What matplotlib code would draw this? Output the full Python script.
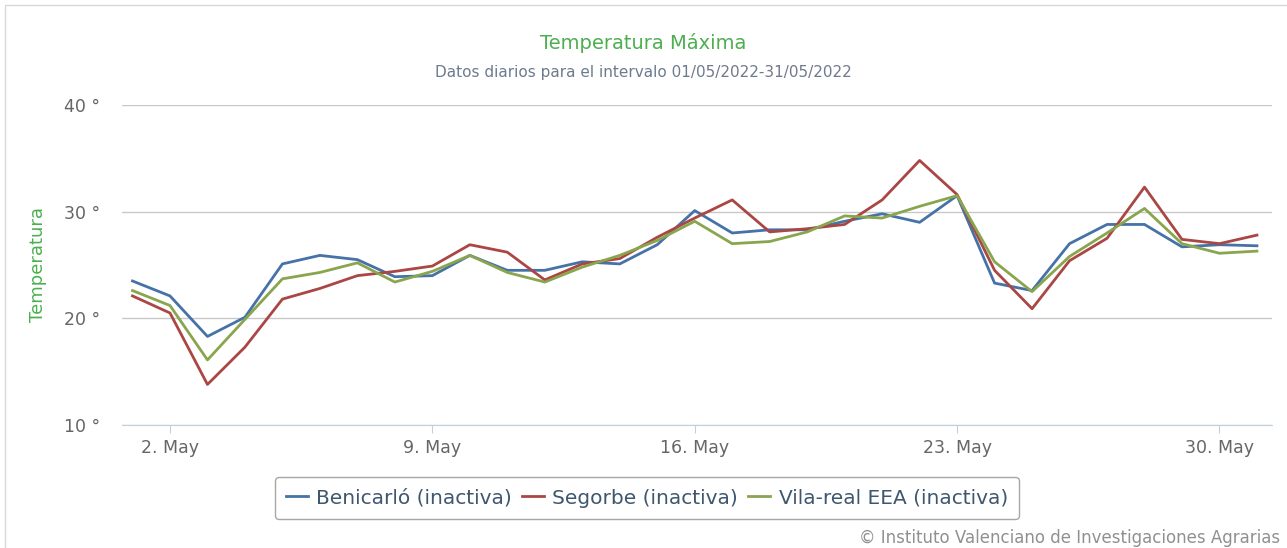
import matplotlib
matplotlib.use("Agg")
import matplotlib.pyplot as plt
from matplotlib.patches import Rectangle

plt.rcParams['font.family'] = ['DejaVu Sans']

# daily maximum temperature, May 2022
days = list(range(1, 32))
benicarlo = [23.5, 22.1, 18.3, 20.1, 25.1, 25.9, 25.5, 23.9, 24.0, 25.9,
             24.5, 24.5, 25.3, 25.1, 26.9, 30.1, 28.0, 28.3, 28.3, 29.1,
             29.8, 29.0, 31.5, 23.3, 22.6, 27.0, 28.8, 28.8, 26.7, 26.9, 26.8]
segorbe = [22.1, 20.5, 13.8, 17.3, 21.8, 22.8, 24.0, 24.4, 24.9, 26.9,
           26.2, 23.6, 25.1, 25.6, 27.6, 29.4, 31.1, 28.1, 28.4, 28.8,
           31.1, 34.8, 31.6, 24.5, 20.9, 25.4, 27.5, 32.3, 27.4, 27.0, 27.8]
vilareal = [22.6, 21.2, 16.1, 19.9, 23.7, 24.3, 25.2, 23.4, 24.4, 25.9,
            24.3, 23.4, 24.8, 25.9, 27.3, 29.1, 27.0, 27.2, 28.1, 29.6,
            29.4, 30.5, 31.5, 25.3, 22.5, 25.8, 28.0, 30.3, 27.0, 26.1, 26.3]
series = [("Benicarló (inactiva)", benicarlo, "#4572A7"),
          ("Segorbe (inactiva)", segorbe, "#AA4643"),
          ("Vila-real EEA (inactiva)", vilareal, "#89A54E")]
tick_days = [2, 9, 16, 23, 30]
tick_labels = ["2. May", "9. May", "16. May", "23. May", "30. May"]
y_ticks = [10, 20, 30, 40]

fig = plt.figure(figsize=(12.87, 5.48), dpi=100)
ax = fig.add_axes([0.0948, 0.2245, 0.8935, 0.5839])

for name, vals, col in series:
    ax.plot(days, vals, color=col, lw=2, label=name, solid_joinstyle='round')

ax.set_xlim(0.72, 31.4)
ax.set_ylim(10, 40)
ax.set_yticks(y_ticks)
ax.set_yticklabels([f"{v} °" for v in y_ticks])
ax.set_xticks(tick_days)
ax.set_xticklabels(tick_labels)
ax.grid(axis='y', color='#C8C8C8', lw=1)
ax.set_axisbelow(True)
for s in ['top', 'right', 'left']:
    ax.spines[s].set_visible(False)
ax.spines['bottom'].set_color('#C0D0E0')
ax.tick_params(axis='y', length=0, pad=16, labelsize=12.5, labelcolor='#666666')
ax.tick_params(axis='x', length=6, color='#C0D0E0', pad=4, labelsize=12.5,
               labelcolor='#666666')
ax.set_ylabel("Temperatura", color='#4CAF50', fontsize=13, labelpad=12)

fig.text(0.5, 1 - 43 / 548, "Temperatura Máxima", ha='center', va='center',
         color='#4CAF50', fontsize=14)
fig.text(0.5, 1 - 72 / 548, "Datos diarios para el intervalo 01/05/2022-31/05/2022",
         ha='center', va='center', color='#6D7B8D', fontsize=11)

leg = fig.legend(loc='center', bbox_to_anchor=(647 / 1287, 1 - 498 / 548), ncol=3,
                 frameon=True, fancybox=True, edgecolor='#909090', fontsize=14.5,
                 handlelength=1.1, handletextpad=0.4, columnspacing=0.5,
                 labelcolor='#3E576F', borderpad=0.55)
leg.get_frame().set_linewidth(1)

fig.text(1280 / 1287, 1 - 538 / 548, "© Instituto Valenciano de Investigaciones Agrarias",
         ha='right', va='center', color='#909090', fontsize=12)

# thin frame round the chart
fig.patches.append(Rectangle((0.004, -0.01), 1.2, 1.0, transform=fig.transFigure,
                             fill=False, edgecolor='#D8D8D8', lw=1))

fig.savefig("out.png", dpi=100)
